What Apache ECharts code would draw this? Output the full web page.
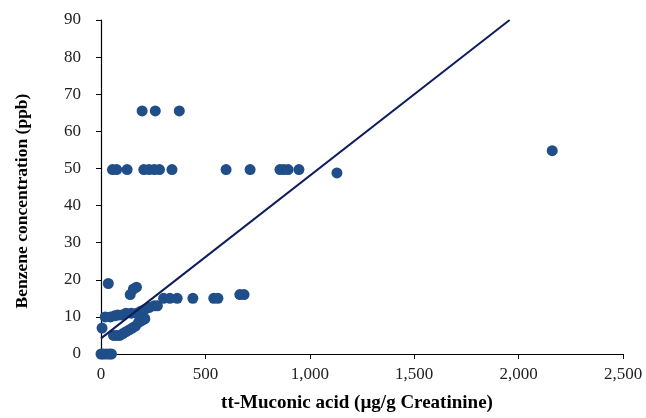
<!DOCTYPE html>
<html>
<head>
<meta charset="utf-8">
<script src="https://cdn.jsdelivr.net/npm/echarts@6/dist/echarts.min.js"></script>
<style>
html,body{margin:0;padding:0;background:#fff;}
#c{width:646px;height:418px;}
</style>
</head>
<body>
<div id="c"></div>
<script>
// tt-Muconic acid (µg/g creatinine) values of each point
const muconicX = [
  0, 10, 25, 40, 50,
  5, 35,
  140, 155, 170,
  20, 45, 65, 80, 100, 120, 145, 170, 190, 210, 230, 255, 270,
  60, 75, 90, 105, 120, 135, 150, 165, 180, 195, 210,
  300, 330, 365, 440, 540, 560, 665, 685,
  55, 75, 125, 205, 230, 255, 280, 340, 599, 714, 857, 875, 896, 948, 1130,
  197, 260, 375,
  2161
];
// Benzene concentration (ppb) of each point
const benzeneY = [
  0, 0, 0, 0, 0,
  7, 19,
  16, 17.5, 18,
  10, 10, 10.3, 10.5, 10.5, 11, 11, 11, 11.5, 12, 12.5, 13, 13,
  5, 5, 5, 5.5, 6, 6.5, 7, 7.5, 8.5, 9, 9.5,
  15, 15, 15, 15, 15, 15, 16, 16,
  49.7, 49.7, 49.7, 49.7, 49.7, 49.7, 49.7, 49.7, 49.7, 49.7, 49.7, 49.7, 49.7, 49.7, 48.8,
  65.5, 65.5, 65.5,
  54.8
];
// linear trendline endpoints (data units)
const trendX = [0, 1957];
const trendY = [4.2, 90];

const xTicks = { min: 0, max: 2500, interval: 500 };
const yTicks = { min: 0, max: 90, interval: 10 };

const points = muconicX.map((x, i) => [x, benzeneY[i]]);
const trend = trendX.map((x, i) => [x, trendY[i]]);

const chart = echarts.init(document.getElementById('c'), null, { renderer: 'canvas' });
const serif = '"Liberation Serif", "Times New Roman", serif';
chart.setOption({
  animation: false,
  backgroundColor: '#ffffff',
  grid: { left: 101, right: 23, top: 20, bottom: 57, containLabel: false },
  xAxis: {
    type: 'value',
    min: xTicks.min, max: xTicks.max, interval: xTicks.interval,
    name: 'tt-Muconic acid (µg/g Creatinine)',
    nameLocation: 'middle',
    nameGap: 40,
    nameTextStyle: { fontFamily: serif, fontWeight: 'bold', fontSize: 19, color: '#000', padding: [0, 10, 0, 0] },
    axisLine: { show: true, lineStyle: { color: '#000', width: 1.2 } },
    axisTick: { show: true, inside: false, length: 5, lineStyle: { color: '#000' } },
    axisLabel: {
      fontFamily: serif, fontSize: 17, color: '#222', margin: 12,
      formatter: v => v.toLocaleString('en-US')
    },
    splitLine: { show: false }
  },
  yAxis: {
    type: 'value',
    min: yTicks.min, max: yTicks.max, interval: yTicks.interval,
    name: 'Benzene concentration (ppb)',
    nameLocation: 'middle',
    nameGap: 70,
    nameRotate: 90,
    nameTextStyle: { fontFamily: serif, fontWeight: 'bold', fontSize: 17.5, color: '#000', padding: [0, 28, 0, 0] },
    axisLine: { show: true, lineStyle: { color: '#000', width: 1.2 } },
    axisTick: { show: true, inside: false, length: 5, lineStyle: { color: '#000' } },
    axisLabel: { fontFamily: serif, fontSize: 17, color: '#222', margin: 20 },
    splitLine: { show: false }
  },
  series: [
    {
      type: 'scatter',
      data: points,
      symbol: 'circle',
      symbolSize: 11,
      itemStyle: { color: '#1f4e89', opacity: 1 },
      z: 2
    },
    {
      type: 'line',
      data: trend,
      showSymbol: false,
      symbol: 'none',
      clip: true,
      lineStyle: { color: '#0f1d5c', width: 2 },
      z: 3
    }
  ]
});
</script>
</body>
</html>
